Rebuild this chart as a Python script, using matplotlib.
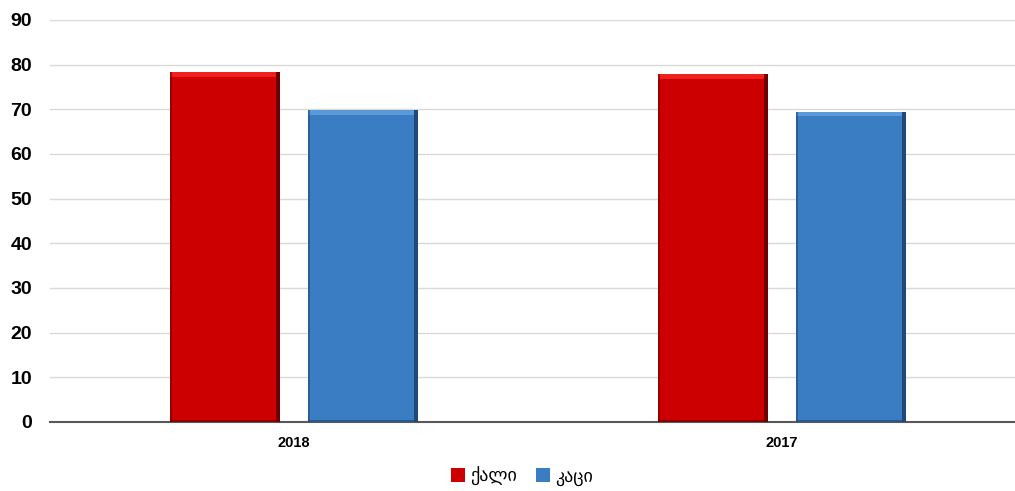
import matplotlib.pyplot as plt
import numpy as np
from matplotlib.patches import Rectangle

years = ['2018', '2017']
women = [78.3, 77.8]
men = [69.8, 69.4]
labels = ['ქალი', 'კაცი']

red = '#cc0000'
blue = '#3a7dc2'

fig = plt.figure(figsize=(10.15, 4.91), dpi=100)
ax = fig.add_axes([50/1015, 69/491, 976/1015, 402/491])

x = np.arange(len(years))
w = 0.225
off = 0.141

b1 = ax.bar(x - off, women, w, color=red, zorder=3, label=labels[0])
b2 = ax.bar(x + off, men, w, color=blue, zorder=3, label=labels[1])


def bevel(bars, light, dark):
    # fake 3d bevel: light strip on top, dark edges on right / left
    for p in bars:
        x0, y0 = p.get_x(), p.get_y()
        bw, bh = p.get_width(), p.get_height()
        ax.add_patch(Rectangle((x0, y0 + bh - 1.0), bw, 1.0, color=light, zorder=4, lw=0))
        ax.add_patch(Rectangle((x0 + bw - 0.008, y0), 0.008, bh, color=dark, zorder=4, lw=0))
        ax.add_patch(Rectangle((x0, y0), 0.004, bh, color=dark, alpha=0.6, zorder=4, lw=0))
        ax.add_patch(Rectangle((x0, y0), bw, 0.5, color=dark, alpha=0.7, zorder=4, lw=0))


bevel(b1, '#f02020', '#6e0000')
bevel(b2, '#5a9ad8', '#1f4a78')

ax.set_xlim(-0.5, 1.5)
ax.set_ylim(0, 90)
ax.set_yticks(np.arange(0, 91, 10))
ax.set_xticks(x)
ax.set_xticklabels(years)
ax.yaxis.grid(True, color='#d9d9d9', lw=1, zorder=0)
for s in ['top', 'right', 'left']:
    ax.spines[s].set_visible(False)
ax.spines['bottom'].set_color('#595959')
ax.spines['bottom'].set_linewidth(1.5)
ax.tick_params(axis='y', length=0, pad=13, labelsize=14)
ax.tick_params(axis='x', length=0, pad=10, labelsize=10.5)
for t in ax.get_yticklabels() + ax.get_xticklabels():
    t.set_fontweight('bold')
    t.set_fontfamily('Liberation Sans')

leg = fig.legend(loc='center', bbox_to_anchor=(522/1015, 1 - 476/491), ncol=2, frameon=False,
                 handlelength=0.8, handleheight=0.8, handletextpad=0.3, columnspacing=1.0,
                 prop={'family': 'DejaVu Sans', 'size': 13})

fig.savefig('out.png', dpi=100)
